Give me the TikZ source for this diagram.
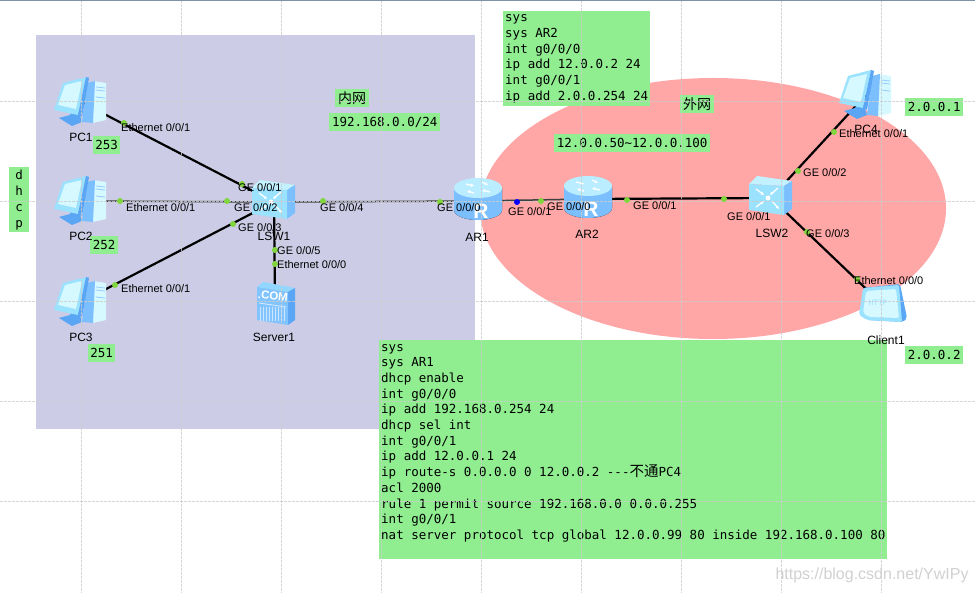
\documentclass[tikz,border=0pt]{standalone}
\usepackage{fontspec}
\setmainfont{Liberation Sans}
\newfontfamily\cmdfont{DejaVu Sans Mono}
\newfontfamily\cjkfont{Noto Sans CJK SC}
\usetikzlibrary{arrows.meta}
\definecolor{notegreen}{HTML}{90EE90}
\definecolor{lanpurple}{HTML}{CCCCE6}
\definecolor{wanred}{HTML}{FFA6A6}
\definecolor{portgreen}{HTML}{80D63C}
\definecolor{iconlight}{HTML}{D6F8FF}
\definecolor{iconmid}{HTML}{9BE2FF}
\definecolor{iconblue}{HTML}{7CBFFF}
\definecolor{icondeep}{HTML}{5AA6F5}
\tikzset{
  devnode/.style={inner sep=0pt,minimum size=0pt},
  link/.style={line width=2.2pt,black},
  flatlink/.style={line width=1.5pt,black!75},
  gridline/.style={white!80!black,line width=0.8pt,dash pattern=on 3pt off 1pt,opacity=0.8},
  portdot/.style={circle,fill=portgreen,inner sep=0pt,minimum size=6pt},
  portlabel/.style={anchor=west,inner sep=0pt,font=\fontsize{11}{12}\selectfont},
  namelabel/.style={inner sep=0pt,font=\fontsize{12}{13}\selectfont},
  notebox/.style={fill=notegreen,anchor=north west,align=left,inner xsep=2pt,inner ysep=3.5pt,font=\fontsize{12.5}{15.68}\selectfont\cmdfont},
  tagbox/.style={fill=notegreen,anchor=north west,align=center,inner sep=0pt,font=\fontsize{12.5}{16}\selectfont\cmdfont},
  iconarrow/.style={white,line width=1.3pt,-{Latex[length=3pt,width=3.5pt]}},
  pcicon/.pic={
    \fill[iconlight] (12,-21)--(25,-19)--(25,18)--(12,21)--cycle;
    \fill[iconblue] (6,-19)--(14,-21)--(12,21)--(1,20)--cycle;
    \draw[iconblue!80,line width=0.8pt] (15,-15)--(24,-14) (15,-12)--(24,-11) (15,-5)--(24,-4);
    \fill[icondeep] (-22,16)--(-11,13)--(-9,10)--(-2,10)--(1,20)--(-9,24)--cycle;
    \fill[iconmid] (-27,8)--(-18,-19)--(5,-25)--(-3,13)--cycle;
    \fill[iconlight] (-23,3)--(-16,-17)--(1,-21)--(-5,7)--cycle;
    \fill[icondeep] (5,-25)--(8,-24)--(1,15)--(-3,13)--cycle;
  },
  routericon/.pic={
    \fill[left color=iconblue,middle color=iconlight,right color=iconblue] (-24,-13)--(-24,9) arc[start angle=180,end angle=0,x radius=24,y radius=10]--(24,-13)--cycle;
    \fill[iconlight!50!iconmid] (0,-13) ellipse [x radius=24,y radius=10];
    \draw[iconarrow] (-12,-17)--(-4,-15);
    \draw[iconarrow] (12,-9)--(4,-11);
    \draw[iconarrow] (4,-19)--(10,-16);
    \draw[iconarrow] (-4,-8)--(-11,-10);
    \node[white,inner sep=0pt,font=\fontsize{21}{21}\selectfont\bfseries] (-glyph) at (3,10) {R};
  },
  switchicon/.pic={
    \fill[iconlight!70!iconmid] (-22,-14)--(-14,-22)--(21,-17)--(13,-12)--cycle;
    \fill[iconblue] (13,-12)--(21,-17)--(21,11)--(13,17)--cycle;
    \fill[iconmid] (-22,-14)--(13,-12)--(13,17)--(-22,12)--cycle;
    \draw[iconarrow] (-15,-9)--(-7,-3);
    \draw[iconarrow] (7,-10)--(-1,-3);
    \draw[iconarrow] (-15,9)--(-7,3);
    \draw[iconarrow] (1,3)--(8,11);
    \fill[white] (-3,0) circle (2.5);
  },
  servericon/.pic={
    \fill[iconmid!70!iconblue] (-18,-14)--(-12,-19)--(20,-13)--(13,-9)--cycle;
    \fill[icondeep] (13,-9)--(20,-13)--(20,19)--(13,24)--cycle;
    \fill[iconblue!85!iconmid] (-18,-14)--(13,-9)--(13,24)--(-18,19)--cycle;
    \node[white,inner sep=0pt,rotate=-6,font=\fontsize{11.5}{12}\selectfont\bfseries] (-glyph) at (-2,-5) {.COM};
    \draw[white!70!iconblue,line width=0.8pt] (-16,2)--(11,6);
    \foreach \sx in {-15,-12,-9,-6,-3,0,3,6,9}
      \draw[white!60!iconblue,line width=0.8pt] (\sx,6)--(\sx,20);
  },
  clienticon/.pic={
    \fill[icondeep,rounded corners=2pt] (-15,16)--(-19,-16)--(18,-20)--(25,14)--(21,18)--cycle;
    \fill[iconmid,rounded corners=2pt] (-23,11)--(-19,-16)--(17,-19)--(20,18)--(-15,16)--cycle;
    \fill[iconlight,rounded corners=2pt] (-19,9)--(-16,-13)--(14,-15)--(17,14)--(-13,13)--cycle;
    \node[iconmid,inner sep=0pt,font=\fontsize{7.5}{8}\selectfont\cmdfont] (-glyph) at (-4,-1) {HTTP};
  }
}
\begin{document}
\begin{tikzpicture}[x=1pt,y=-1pt]
\useasboundingbox (0,0) rectangle (975,593);
\fill[white] (0,0) rectangle (975,593);
\fill[lanpurple] (35.5,35.5) rectangle (474.5,429);
\fill[wanred] (713,208.5) ellipse [x radius=233,y radius=130.5];
\node[notebox] (ar2cmd) at (503,11) {sys\\sys AR2\\int g0/0/0\\ip add 12.0.0.2 24\\int g0/0/1\\ip add 2.0.0.254 24};
\node[notebox,inner ysep=4pt] (ar1cmd) at (379,340) {sys\\sys AR1\\dhcp enable\\int g0/0/0\\ip add 192.168.0.254 24\\dhcp sel int\\int g0/0/1\\ip add 12.0.0.1 24\\ip route-s 0.0.0.0 0 12.0.0.2 ---{\cjkfont\fontsize{14.5}{15}\selectfont 不通}PC4\\acl 2000\\rule 1 permit source 192.168.0.0 0.0.0.255\\int g0/0/1\\nat server protocol tcp global 12.0.0.99 80 inside 192.168.0.100 80\\~};
\node[tagbox,minimum width=20pt,minimum height=65pt] (dhcptag) at (9,167) {d\\h\\c\\p};
\node[tagbox,minimum width=27pt,minimum height=18pt] (tag253) at (93,136) {253};
\node[tagbox,minimum width=28pt,minimum height=18pt] (tag252) at (90,236) {252};
\node[tagbox,minimum width=27pt,minimum height=18pt] (tag251) at (88,344) {251};
\node[tagbox,minimum width=34pt,minimum height=18pt,font=\fontsize{14}{15}\selectfont\cjkfont] (lantag) at (335,89) {内网};
\node[tagbox,minimum width=111pt,minimum height=18pt] (lannet) at (329,113) {192.168.0.0/24};
\node[tagbox,minimum width=34pt,minimum height=18pt,font=\fontsize{14}{15}\selectfont\cjkfont] (wantag) at (680,95) {外网};
\node[tagbox,minimum width=156pt,minimum height=18pt] (natpool) at (554,134) {12.0.0.50\textasciitilde12.0.0.100};
\node[tagbox,minimum width=58pt,minimum height=18pt] (tagpc4) at (905,98) {2.0.0.1};
\node[tagbox,minimum width=58pt,minimum height=18pt] (tagclient) at (905,346) {2.0.0.2};
\node[devnode] (PC1) at (81,102) {};
\node[devnode] (PC2) at (81,201) {};
\node[devnode] (PC3) at (81,302) {};
\node[devnode] (PC4) at (866,95) {};
\node[devnode] (LSW1) at (274,202) {};
\node[devnode] (LSW2) at (771,198) {};
\node[devnode] (AR1) at (478,201) {};
\node[devnode] (AR2) at (588,199) {};
\node[devnode] (Server1) at (275,301) {};
\node[devnode] (Client1) at (882,304) {};
\draw[link] (PC1)--(LSW1);
\draw[flatlink] (PC2)--(LSW1);
\draw[link] (PC3)--(LSW1);
\draw[link] (LSW1)--(Server1);
\draw[flatlink] (LSW1)--(AR1);
\draw[flatlink] (AR1)--(AR2);
\draw[link] (AR2)--(LSW2);
\draw[link] (LSW2)--(PC4);
\draw[link] (LSW2)--(Client1);
\pic (iconPC1) at (PC1) {pcicon};
\pic (iconPC2) at (PC2) {pcicon};
\pic (iconPC3) at (PC3) {pcicon};
\pic (iconPC4) at (PC4) {pcicon};
\pic (iconLSW1) at (LSW1) {switchicon};
\pic (iconLSW2) at (LSW2) {switchicon};
\pic (iconAR1) at (AR1) {routericon};
\pic (iconAR2) at (AR2) {routericon};
\pic (iconServer1) at (Server1) {servericon};
\pic (iconClient1) at (Client1) {clienticon};
\foreach \gx in {81.7,181.7,281.7,381.7,481.7,581.7,681.7,781.7,881.7}
  \draw[gridline] (\gx,0)--(\gx,593);
\foreach \gy in {101.5,201.5,301.5,401.5,501.5}
  \draw[gridline] (0,\gy)--(975,\gy);
\draw[line width=1.5pt,color={rgb,255:red,127;green,147;blue,168}] (0,0.5)--(975,0.5);
\node[portdot] (dot1) at (124,123) {};
\node[portdot] (dot2) at (120,201) {};
\node[portdot] (dot3) at (115,285) {};
\node[portdot] (dot4) at (242,184) {};
\node[portdot] (dot5) at (227,201) {};
\node[portdot] (dot6) at (233,224) {};
\node[portdot] (dot7) at (323,201) {};
\node[portdot] (dot8) at (275,250) {};
\node[portdot] (dot9) at (275,264) {};
\node[portdot] (dot10) at (440,202) {};
\node[portdot,fill=blue] (dot11) at (517,202) {};
\node[portdot] (dot12) at (541,201) {};
\node[portdot] (dot13) at (627,200) {};
\node[portdot] (dot14) at (724,199) {};
\node[portdot] (dot15) at (798,171) {};
\node[portdot] (dot16) at (834,132) {};
\node[portdot] (dot17) at (807,232) {};
\node[portdot] (dot18) at (857,279) {};
\node[portlabel] (port1) at (121,128) {Ethernet 0/0/1};
\node[portlabel] (port2) at (126,208) {Ethernet 0/0/1};
\node[portlabel] (port3) at (121,289) {Ethernet 0/0/1};
\node[portlabel] (port4) at (238,188) {GE 0/0/1};
\node[portlabel] (port5) at (234,208) {GE 0/0/2};
\node[portlabel] (port6) at (238,228) {GE 0/0/3};
\node[portlabel] (port7) at (320,208) {GE 0/0/4};
\node[portlabel] (port8) at (277,251) {GE 0/0/5};
\node[portlabel] (port9) at (277,265) {Ethernet 0/0/0};
\node[portlabel] (port10) at (437,208) {GE 0/0/0};
\node[portlabel] (port11) at (508,212) {GE 0/0/1};
\node[portlabel] (port12) at (547,207) {GE 0/0/0};
\node[portlabel] (port13) at (633,206) {GE 0/0/1};
\node[portlabel] (port14) at (727,217) {GE 0/0/1};
\node[portlabel] (port15) at (803,173) {GE 0/0/2};
\node[portlabel] (port16) at (806,234) {GE 0/0/3};
\node[portlabel] (port17) at (839,134) {Ethernet 0/0/1};
\node[portlabel] (port18) at (854,281) {Ethernet 0/0/0};
\node[namelabel] (namePC1) at (81,137) {PC1};
\node[namelabel] (namePC2) at (81,236) {PC2};
\node[namelabel] (namePC3) at (81,337) {PC3};
\node[namelabel] (namePC4) at (866,129) {PC4};
\node[namelabel] (nameLSW1) at (274,236) {LSW1};
\node[namelabel] (nameLSW2) at (772,233) {LSW2};
\node[namelabel] (nameAR1) at (477,237) {AR1};
\node[namelabel] (nameAR2) at (587,234) {AR2};
\node[namelabel] (nameServer1) at (274,337) {Server1};
\node[namelabel] (nameClient1) at (886,340) {Client1};
\node[white!82!black,inner sep=0pt,font=\fontsize{16}{18}\selectfont] (mark) at (872,575) {https://blog.csdn.net/YwIPy};
\end{tikzpicture}
\end{document}
